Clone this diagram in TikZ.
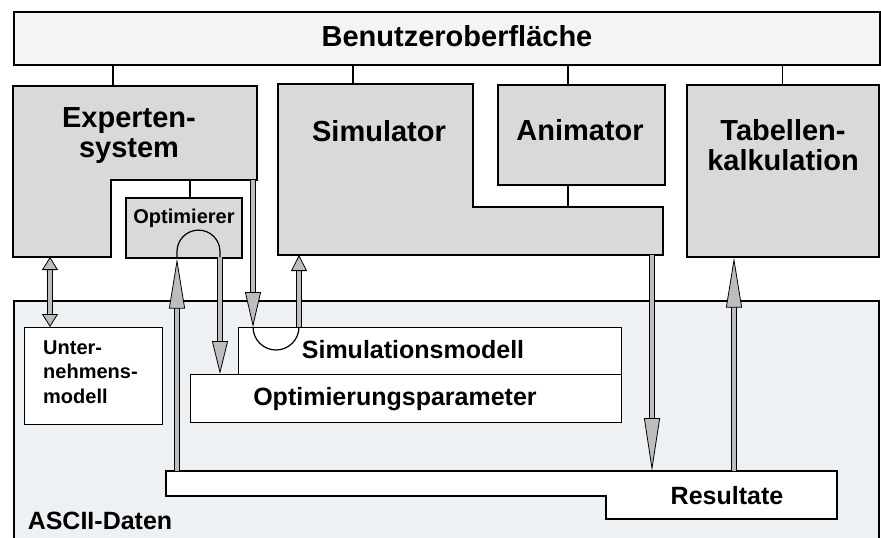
\documentclass[tikz,border=0pt]{standalone}
\usepackage{fontspec}
\setmainfont{Liberation Sans}
\usetikzlibrary{arrows.meta, positioning, calc}
\definecolor{panelgray}{HTML}{D9D9D9}
\definecolor{bargray}{HTML}{F4F4F4}
\definecolor{datablue}{HTML}{EDF1F4}
\definecolor{arrowgray}{HTML}{BDBDBD}

\begin{document}
\begin{tikzpicture}[x=1pt, y=-1pt,
    panel/.style={draw, line width=1.6pt, fill=panelgray},
    plainbox/.style={draw, line width=1.2pt, fill=white},
    boxsize/.style 2 args={anchor=north west, inner sep=0pt,
                  minimum width=#1, minimum height=#2},
    biglabel/.style={font=\fontsize{29}{30}\selectfont\bfseries, align=center, inner sep=0pt},
    midlabel/.style={font=\fontsize{25}{26}\selectfont\bfseries, inner sep=0pt},
    smalllabel/.style={font=\fontsize{20}{24.5}\selectfont\bfseries, align=left, inner sep=0pt},
    link/.style={line width=1.2pt},
    fatarrow/.style={double=arrowgray, double distance=4.4pt, line width=0.8pt,
        -{Triangle[length=#1, width=16pt, fill=arrowgray, line width=0.8pt]}},
    fatarrow/.default=16pt,
    fatboth/.style={double=arrowgray, double distance=4.4pt, line width=0.8pt,
        {Triangle[length=#1, width=16pt, fill=arrowgray, line width=0.8pt]}-{Triangle[length=#1, width=16pt, fill=arrowgray, line width=0.8pt]}},
    fatboth/.default=13pt,
]
\useasboundingbox (0,0) rectangle (881,538);

% ASCII data area
\fill[datablue] (14,301) rectangle (879,538);
\draw[link] (14,538) -- (14,301) -- (879,301) -- (879,538);
\node[midlabel] (ascii) at (100,521) {ASCII-Daten};

% user interface bar
\node[panel, fill=bargray, boxsize={866pt}{53pt}] (ui) at (13,11) {};
\node[biglabel] (ui-text) at (457,36) {Benutzeroberfläche};

% expert system (L-shaped)
\draw[panel] (13,86) -- (257,86) -- (257,180) -- (111,180) -- (111,257) -- (13,257) -- cycle;
\coordinate (exp-ui) at (113,86);
\coordinate (exp-opt) at (190,180);
\coordinate (exp-out) at (253,180);
\coordinate (exp-unm) at (50,257);
\node[biglabel] (exp-text) at (129,136) {Experten-\\system};

\node[panel, boxsize={116pt}{60pt}] (opt) at (125,197) {};
\node[smalllabel] (opt-text) at (184,218) {Optimierer};
\coordinate (opt-out) at (220,257);

% simulator (L-shaped)
\draw[panel] (278,84) -- (473,84) -- (473,207) -- (663,207) -- (663,255) -- (278,255) -- cycle;
\coordinate (sim-ui) at (353,84);
\coordinate (sim-ani) at (568,207);
\coordinate (sim-in) at (299,255);
\coordinate (sim-out) at (652,255);
\node[biglabel] (sim-text) at (379,131) {Simulator};

\node[panel, boxsize={167pt}{100pt}] (ani) at (497,84) {};
\node[biglabel] (ani-text) at (580,130) {Animator};

\node[panel, boxsize={192pt}{172pt}] (tab) at (686,84) {};
\node[biglabel] (tab-text) at (783,145) {Tabellen-\\kalkulation};

% connections to the user interface
\draw[link] (exp-ui |- ui.south) -- (exp-ui);
\draw[link] (sim-ui |- ui.south) -- (sim-ui);
\draw[link] (sim-ani |- ui.south) -- (sim-ani |- ani.north);
\draw[link] (ui.south -| tab.north) -- (tab.north);
\draw[link] (sim-ani |- ani.south) -- (sim-ani);
\draw[link] (exp-opt) -- (exp-opt |- opt.north);

% data files
\node[plainbox, boxsize={138pt}{97pt}] (unm) at (24,327) {};
\node[smalllabel, anchor=west] (unm-text) at (43,372) {Unter-\\nehmens-\\modell};

\node[plainbox, boxsize={383pt}{47pt}] (simmod) at (238,327) {};
\node[midlabel] (simmod-text) at (413,350) {Simulationsmodell};
\node[plainbox, boxsize={431pt}{48pt}] (optpar) at (190,374) {};
\node[midlabel] (optpar-text) at (395,399) {Optimierungsparameter};

\draw[link, fill=white] (166,471) -- (837,471) -- (837,519) -- (606,519) -- (606,496) -- (166,496) -- cycle;
\coordinate (res-opt) at (177,471);
\coordinate (res-in) at (652,471);
\coordinate (res-tab) at (734,471);
\node[midlabel] (res-text) at (727,496) {Resultate};

% data flow
\draw[fatboth] (exp-unm) -- (exp-unm |- unm.north);
\draw[fatarrow=50pt] (res-opt) -- (res-opt |- opt.south);
\draw[fatarrow=33pt] (opt-out) -- (opt-out |- optpar.north);
\draw[fatarrow=35pt] (exp-out) -- (exp-out |- simmod.north);
\draw[fatarrow=16pt] (sim-in |- simmod.north) -- (sim-in);
\draw[fatarrow=53pt] (sim-out) -- (res-in);
\draw[fatarrow=50pt] (res-tab) -- (res-tab |- tab.south);

% loops
\draw[link] (res-opt |- opt.south) -- ++(0,-7) arc[start angle=180, end angle=0, radius=21.5pt] -- (opt-out);
\draw[link] (exp-out |- simmod.north) arc[start angle=180, end angle=360, radius=23pt];
\end{tikzpicture}
\end{document}
